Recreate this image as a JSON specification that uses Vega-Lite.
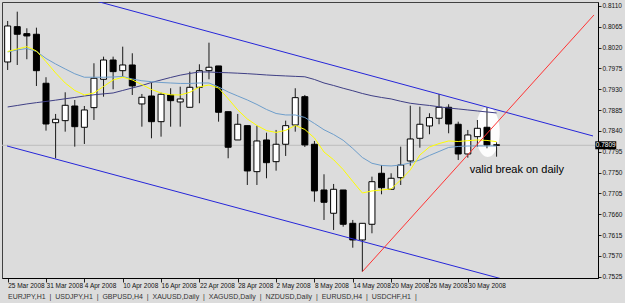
{
  "$schema": "https://vega.github.io/schema/vega-lite/v6.json",
  "width": 596,
  "height": 276,
  "autosize": {"type": "none"},
  "padding": {"left": 2, "top": 2, "right": 27, "bottom": 25},
  "background": "#dcdcdc",
  "config": {
    "font": "Liberation Sans",
    "view": {"stroke": "#404040", "strokeWidth": 1, "fill": "#dcdcdc"}
  },
  "title": {
    "text": "EURJPY,H1\u00a0\u00a0|\u00a0\u00a0USDJPY,H1\u00a0\u00a0|\u00a0\u00a0GBPUSD,H4\u00a0\u00a0|\u00a0\u00a0XAUUSD,Daily\u00a0\u00a0|\u00a0\u00a0XAGUSD,Daily\u00a0\u00a0|\u00a0\u00a0NZDUSD,Daily\u00a0\u00a0|\u00a0\u00a0EURUSD,H4\u00a0\u00a0|\u00a0\u00a0USDCHF,H1\u00a0\u00a0|",
    "orient": "bottom", "anchor": "start", "frame": "group", "fontSize": 7, "fontWeight": "normal",
    "font": "Liberation Sans", "color": "#333333", "offset": 4, "dx": 6
  },
  "datasets": {
    "candles": [
      {"i":0,"o":0.79890,"h":0.80776,"l":0.79717,"c":0.80668},
      {"i":1,"o":0.80653,"h":0.80977,"l":0.79825,"c":0.80489},
      {"i":2,"o":0.80502,"h":0.80618,"l":0.79949,"c":0.80452},
      {"i":3,"o":0.80489,"h":0.80631,"l":0.79371,"c":0.79702},
      {"i":4,"o":0.79430,"h":0.79560,"l":0.78406,"c":0.78550},
      {"i":5,"o":0.78578,"h":0.78767,"l":0.77809,"c":0.78652},
      {"i":6,"o":0.78622,"h":0.79235,"l":0.78384,"c":0.78954},
      {"i":7,"o":0.78939,"h":0.79069,"l":0.78060,"c":0.78492},
      {"i":8,"o":0.78479,"h":0.78939,"l":0.78118,"c":0.78853},
      {"i":9,"o":0.78903,"h":0.79862,"l":0.78637,"c":0.79538},
      {"i":10,"o":0.79516,"h":0.80005,"l":0.79140,"c":0.79933},
      {"i":11,"o":0.79933,"h":0.80005,"l":0.79300,"c":0.79681},
      {"i":12,"o":0.79702,"h":0.80221,"l":0.79573,"c":0.79825},
      {"i":13,"o":0.79825,"h":0.80078,"l":0.79177,"c":0.79372},
      {"i":14,"o":0.78983,"h":0.79199,"l":0.78492,"c":0.79127},
      {"i":15,"o":0.79155,"h":0.79443,"l":0.78241,"c":0.78600},
      {"i":16,"o":0.78600,"h":0.79227,"l":0.78276,"c":0.79192},
      {"i":17,"o":0.79177,"h":0.79322,"l":0.78492,"c":0.79054},
      {"i":18,"o":0.79026,"h":0.79356,"l":0.78492,"c":0.79091},
      {"i":19,"o":0.78911,"h":0.79681,"l":0.78911,"c":0.79343},
      {"i":20,"o":0.79343,"h":0.79840,"l":0.78998,"c":0.79702},
      {"i":21,"o":0.79702,"h":0.80307,"l":0.79516,"c":0.79776},
      {"i":22,"o":0.79804,"h":0.79804,"l":0.78600,"c":0.78803},
      {"i":23,"o":0.78816,"h":0.78816,"l":0.77809,"c":0.78047},
      {"i":24,"o":0.78205,"h":0.78767,"l":0.78205,"c":0.78544},
      {"i":25,"o":0.78514,"h":0.78514,"l":0.77232,"c":0.77535},
      {"i":26,"o":0.77520,"h":0.78514,"l":0.77232,"c":0.78183},
      {"i":27,"o":0.78205,"h":0.78362,"l":0.77377,"c":0.77714},
      {"i":28,"o":0.77736,"h":0.78421,"l":0.77541,"c":0.78112},
      {"i":29,"o":0.78112,"h":0.78622,"l":0.77859,"c":0.78514},
      {"i":30,"o":0.78529,"h":0.79322,"l":0.78384,"c":0.79119},
      {"i":31,"o":0.79140,"h":0.79177,"l":0.78053,"c":0.78097},
      {"i":32,"o":0.78112,"h":0.78183,"l":0.76871,"c":0.77103},
      {"i":33,"o":0.77124,"h":0.77463,"l":0.76476,"c":0.76858},
      {"i":34,"o":0.76621,"h":0.77254,"l":0.76260,"c":0.77139},
      {"i":35,"o":0.77124,"h":0.77124,"l":0.76331,"c":0.76383},
      {"i":36,"o":0.76404,"h":0.76476,"l":0.75877,"c":0.76044},
      {"i":37,"o":0.76044,"h":0.76404,"l":0.75359,"c":0.76404},
      {"i":38,"o":0.76383,"h":0.77412,"l":0.76188,"c":0.77303},
      {"i":39,"o":0.77485,"h":0.77664,"l":0.77031,"c":0.77174},
      {"i":40,"o":0.77139,"h":0.77485,"l":0.77124,"c":0.77377},
      {"i":41,"o":0.77390,"h":0.78060,"l":0.77232,"c":0.77664},
      {"i":42,"o":0.77751,"h":0.78946,"l":0.77649,"c":0.78226},
      {"i":43,"o":0.78241,"h":0.78924,"l":0.78038,"c":0.78544},
      {"i":44,"o":0.78507,"h":0.78782,"l":0.78328,"c":0.78687},
      {"i":45,"o":0.78674,"h":0.79199,"l":0.78544,"c":0.78911},
      {"i":46,"o":0.78911,"h":0.78976,"l":0.78349,"c":0.78550},
      {"i":47,"o":0.78544,"h":0.78600,"l":0.77772,"c":0.77902},
      {"i":48,"o":0.77902,"h":0.78421,"l":0.77822,"c":0.78313},
      {"i":49,"o":0.78276,"h":0.78637,"l":0.78060,"c":0.78457},
      {"i":50,"o":0.78479,"h":0.78911,"l":0.78025,"c":0.78097},
      {"i":51,"o":0.78100,"h":0.78155,"l":0.77844,"c":0.78090}
    ],
    "ma": [
      {"i":0,"fast":0.80117,"mid":0.80106,"slow":0.78918},
      {"i":1,"fast":0.80171,"mid":0.80150,"slow":0.78950},
      {"i":2,"fast":0.80221,"mid":0.80182,"slow":0.78983},
      {"i":3,"fast":0.80128,"mid":0.80117,"slow":0.79011},
      {"i":4,"fast":0.79897,"mid":0.79966,"slow":0.79037},
      {"i":5,"fast":0.79653,"mid":0.79847,"slow":0.79065},
      {"i":6,"fast":0.79436,"mid":0.79739,"slow":0.79095},
      {"i":7,"fast":0.79274,"mid":0.79635,"slow":0.79123},
      {"i":8,"fast":0.79177,"mid":0.79560,"slow":0.79155},
      {"i":9,"fast":0.79220,"mid":0.79560,"slow":0.79181},
      {"i":10,"fast":0.79361,"mid":0.79560,"slow":0.79201},
      {"i":11,"fast":0.79501,"mid":0.79566,"slow":0.79220},
      {"i":12,"fast":0.79560,"mid":0.79577,"slow":0.79274},
      {"i":13,"fast":0.79501,"mid":0.79523,"slow":0.79328},
      {"i":14,"fast":0.79402,"mid":0.79484,"slow":0.79382},
      {"i":15,"fast":0.79296,"mid":0.79464,"slow":0.79447},
      {"i":16,"fast":0.79220,"mid":0.79447,"slow":0.79501},
      {"i":17,"fast":0.79181,"mid":0.79436,"slow":0.79555},
      {"i":18,"fast":0.79177,"mid":0.79426,"slow":0.79605},
      {"i":19,"fast":0.79235,"mid":0.79426,"slow":0.79642},
      {"i":20,"fast":0.79350,"mid":0.79436,"slow":0.79674},
      {"i":21,"fast":0.79393,"mid":0.79436,"slow":0.79674},
      {"i":22,"fast":0.79328,"mid":0.79350,"slow":0.79663},
      {"i":23,"fast":0.79097,"mid":0.79242,"slow":0.79657},
      {"i":24,"fast":0.78853,"mid":0.79155,"slow":0.79648},
      {"i":25,"fast":0.78658,"mid":0.79069,"slow":0.79637},
      {"i":26,"fast":0.78518,"mid":0.78972,"slow":0.79624},
      {"i":27,"fast":0.78408,"mid":0.78864,"slow":0.79609},
      {"i":28,"fast":0.78367,"mid":0.78777,"slow":0.79598},
      {"i":29,"fast":0.78412,"mid":0.78745,"slow":0.79588},
      {"i":30,"fast":0.78518,"mid":0.78745,"slow":0.79579},
      {"i":31,"fast":0.78432,"mid":0.78691,"slow":0.79570},
      {"i":32,"fast":0.78248,"mid":0.78561,"slow":0.79512},
      {"i":33,"fast":0.77945,"mid":0.78425,"slow":0.79436},
      {"i":34,"fast":0.77777,"mid":0.78323,"slow":0.79382},
      {"i":35,"fast":0.77565,"mid":0.78198,"slow":0.79322},
      {"i":36,"fast":0.77308,"mid":0.78021,"slow":0.79268},
      {"i":37,"fast":0.77059,"mid":0.77826,"slow":0.79209},
      {"i":38,"fast":0.77103,"mid":0.77701,"slow":0.79160},
      {"i":39,"fast":0.77124,"mid":0.77654,"slow":0.79123},
      {"i":40,"fast":0.77146,"mid":0.77643,"slow":0.79091},
      {"i":41,"fast":0.77340,"mid":0.77664,"slow":0.79041},
      {"i":42,"fast":0.77556,"mid":0.77708,"slow":0.78998},
      {"i":43,"fast":0.77880,"mid":0.77772,"slow":0.78972},
      {"i":44,"fast":0.78053,"mid":0.77870,"slow":0.78950},
      {"i":45,"fast":0.78127,"mid":0.77956,"slow":0.78922},
      {"i":46,"fast":0.78183,"mid":0.78043,"slow":0.78896},
      {"i":47,"fast":0.78172,"mid":0.78064,"slow":0.78875},
      {"i":48,"fast":0.78190,"mid":0.78075,"slow":0.78853},
      {"i":49,"fast":0.78205,"mid":0.78075,"slow":0.78831},
      {"i":50,"fast":0.78194,"mid":0.78075,"slow":0.78810},
      {"i":51,"fast":0.78168,"mid":0.78075,"slow":0.78788}
    ],
    "trend": [
      {"line":"upper","i":0,"p":0.81725},
      {"line":"upper","i":61.06,"p":0.78291},
      {"line":"lower","i":-0.07,"p":0.78075},
      {"line":"lower","i":61.06,"p":0.74673},
      {"line":"red","i":37,"p":0.75359},
      {"line":"red","i":61.16,"p":0.80906}
    ],
    "notes": [
      {"kind":"ellipse","i":50.08,"p":0.78378,"text":""},
      {"kind":"label","i":48.2,"p":0.77556,"text":"valid break on daily"},
      {"kind":"bid","i":62.39,"p":0.7809,"text":"0.7809"}
    ]
  },
  "encoding": {
    "x": {
      "field": "i", "type": "quantitative",
      "scale": {"domain": [-0.07, 61.06], "nice": false, "zero": false},
      "axis": {
        "title": null, "grid": false,
        "values": [0,4,8,12,16,20,24,28,32,36,40,44,48],
        "labelExpr": "['25 Mar 2008','31 Mar 2008','4 Apr 2008','10 Apr 2008','16 Apr 2008','22 Apr 2008','28 Apr 2008','2 May 2008','8 May 2008','14 May 2008','20 May 2008','26 May 2008','30 May 2008'][datum.value/4]",
        "labelAlign": "left", "labelPadding": 0, "labelFontSize": 6.5, "labelColor": "#111111",
        "labelFont": "Liberation Sans", "tickSize": 4, "tickColor": "#222222",
        "domainColor": "#000000", "labelOverlap": false, "labelFlush": false
      }
    }
  },
  "layer": [
    {
      "data": {"name": "notes"},
      "transform": [{"filter": "datum.kind === 'ellipse'"}],
      "mark": {"type": "point", "filled": true, "color": "#ffffff", "opacity": 0.92, "size": 2500,
        "shape": "M0,-1 A0.48,1 0 1,1 0,1 A0.48,1 0 1,1 0,-1 Z"},
      "encoding": {
        "y": {"field": "p", "type": "quantitative",
          "scale": {"domain": [0.75222, 0.81186], "nice": false, "zero": false},
          "axis": {"orient": "right", "title": null, "grid": false,
            "values": [0.7525,0.7570,0.7615,0.7660,0.7705,0.7750,0.7795,0.7840,0.7885,0.7930,0.7975,0.8020,0.8065,0.8110],
            "format": ".4f", "labelFontSize": 6.5, "labelFont": "Liberation Sans", "labelColor": "#111111",
            "labelPadding": 1, "tickSize": 3, "tickColor": "#222222", "domainColor": "#000000",
            "labelOverlap": false, "labelFlush": false}
        }
      }
    },
    {
      "data": {"values": [{"p": 0.7809}]},
      "mark": {"type": "rule", "color": "#bcbcbc", "strokeWidth": 1},
      "encoding": {"x": null, "y": {"field": "p", "type": "quantitative",
          "axis": {"orient": "right", "title": null, "grid": false,
            "values": [0.7525,0.7570,0.7615,0.7660,0.7705,0.7750,0.7795,0.7840,0.7885,0.7930,0.7975,0.8020,0.8065,0.8110],
            "format": ".4f", "labelFontSize": 6.5, "labelFont": "Liberation Sans", "labelColor": "#111111",
            "labelPadding": 1, "tickSize": 3, "tickColor": "#222222", "domainColor": "#000000",
            "labelOverlap": false, "labelFlush": false}}}
    },
    {
      "data": {"name": "candles"},
      "mark": {"type": "rule", "color": "#1a1a1a", "strokeWidth": 1},
      "encoding": {
        "y": {"field": "l", "type": "quantitative",
          "axis": {"orient": "right", "title": null, "grid": false,
            "values": [0.7525,0.7570,0.7615,0.7660,0.7705,0.7750,0.7795,0.7840,0.7885,0.7930,0.7975,0.8020,0.8065,0.8110],
            "format": ".4f", "labelFontSize": 6.5, "labelFont": "Liberation Sans", "labelColor": "#111111",
            "labelPadding": 1, "tickSize": 3, "tickColor": "#222222", "domainColor": "#000000",
            "labelOverlap": false, "labelFlush": false}},
        "y2": {"field": "h"}
      }
    },
    {
      "data": {"name": "candles"},
      "mark": {"type": "bar", "width": 6, "stroke": "#000000", "strokeWidth": 1},
      "encoding": {
        "y": {"field": "o", "type": "quantitative",
          "axis": {"orient": "right", "title": null, "grid": false,
            "values": [0.7525,0.7570,0.7615,0.7660,0.7705,0.7750,0.7795,0.7840,0.7885,0.7930,0.7975,0.8020,0.8065,0.8110],
            "format": ".4f", "labelFontSize": 6.5, "labelFont": "Liberation Sans", "labelColor": "#111111",
            "labelPadding": 1, "tickSize": 3, "tickColor": "#222222", "domainColor": "#000000",
            "labelOverlap": false, "labelFlush": false}},
        "y2": {"field": "c"},
        "fill": {"condition": {"test": "datum.c >= datum.o", "value": "#ffffff"}, "value": "#000000"}
      }
    },
    {
      "data": {"name": "ma"},
      "mark": {"type": "line", "color": "#3f3f85", "strokeWidth": 1, "clip": true},
      "encoding": {"y": {"field": "slow", "type": "quantitative",
          "axis": {"orient": "right", "title": null, "grid": false,
            "values": [0.7525,0.7570,0.7615,0.7660,0.7705,0.7750,0.7795,0.7840,0.7885,0.7930,0.7975,0.8020,0.8065,0.8110],
            "format": ".4f", "labelFontSize": 6.5, "labelFont": "Liberation Sans", "labelColor": "#111111",
            "labelPadding": 1, "tickSize": 3, "tickColor": "#222222", "domainColor": "#000000",
            "labelOverlap": false, "labelFlush": false}}}
    },
    {
      "data": {"name": "ma"},
      "mark": {"type": "line", "color": "#6e9ecb", "strokeWidth": 1, "clip": true},
      "encoding": {"y": {"field": "mid", "type": "quantitative",
          "axis": {"orient": "right", "title": null, "grid": false,
            "values": [0.7525,0.7570,0.7615,0.7660,0.7705,0.7750,0.7795,0.7840,0.7885,0.7930,0.7975,0.8020,0.8065,0.8110],
            "format": ".4f", "labelFontSize": 6.5, "labelFont": "Liberation Sans", "labelColor": "#111111",
            "labelPadding": 1, "tickSize": 3, "tickColor": "#222222", "domainColor": "#000000",
            "labelOverlap": false, "labelFlush": false}}}
    },
    {
      "data": {"name": "ma"},
      "mark": {"type": "line", "color": "#ffff00", "strokeWidth": 1, "clip": true},
      "encoding": {"y": {"field": "fast", "type": "quantitative",
          "axis": {"orient": "right", "title": null, "grid": false,
            "values": [0.7525,0.7570,0.7615,0.7660,0.7705,0.7750,0.7795,0.7840,0.7885,0.7930,0.7975,0.8020,0.8065,0.8110],
            "format": ".4f", "labelFontSize": 6.5, "labelFont": "Liberation Sans", "labelColor": "#111111",
            "labelPadding": 1, "tickSize": 3, "tickColor": "#222222", "domainColor": "#000000",
            "labelOverlap": false, "labelFlush": false}}}
    },
    {
      "data": {"name": "trend"},
      "mark": {"type": "line", "strokeWidth": 1, "clip": true},
      "encoding": {
        "y": {"field": "p", "type": "quantitative",
          "axis": {"orient": "right", "title": null, "grid": false,
            "values": [0.7525,0.7570,0.7615,0.7660,0.7705,0.7750,0.7795,0.7840,0.7885,0.7930,0.7975,0.8020,0.8065,0.8110],
            "format": ".4f", "labelFontSize": 6.5, "labelFont": "Liberation Sans", "labelColor": "#111111",
            "labelPadding": 1, "tickSize": 3, "tickColor": "#222222", "domainColor": "#000000",
            "labelOverlap": false, "labelFlush": false}},
        "detail": {"field": "line"},
        "color": {"field": "line", "type": "nominal", "legend": null,
          "scale": {"domain": ["upper", "lower", "red"], "range": ["#2626d9", "#2626d9", "#ff3333"]}}
      }
    },
    {
      "data": {"name": "notes"},
      "transform": [{"filter": "datum.kind === 'label'"}],
      "mark": {"type": "text", "align": "left", "baseline": "middle", "fontSize": 11, "font": "Liberation Sans", "color": "#000000"},
      "encoding": {
        "y": {"field": "p", "type": "quantitative",
          "axis": {"orient": "right", "title": null, "grid": false,
            "values": [0.7525,0.7570,0.7615,0.7660,0.7705,0.7750,0.7795,0.7840,0.7885,0.7930,0.7975,0.8020,0.8065,0.8110],
            "format": ".4f", "labelFontSize": 6.5, "labelFont": "Liberation Sans", "labelColor": "#111111",
            "labelPadding": 1, "tickSize": 3, "tickColor": "#222222", "domainColor": "#000000",
            "labelOverlap": false, "labelFlush": false}},
        "text": {"field": "text"}
      }
    },
    {
      "data": {"name": "notes"},
      "transform": [{"filter": "datum.kind === 'bid'"}],
      "mark": {"type": "point", "filled": true, "color": "#000000", "opacity": 1, "size": 441,
        "shape": "M-1,-0.38 L1,-0.38 L1,0.38 L-1,0.38 Z"},
      "encoding": {"y": {"field": "p", "type": "quantitative",
          "axis": {"orient": "right", "title": null, "grid": false,
            "values": [0.7525,0.7570,0.7615,0.7660,0.7705,0.7750,0.7795,0.7840,0.7885,0.7930,0.7975,0.8020,0.8065,0.8110],
            "format": ".4f", "labelFontSize": 6.5, "labelFont": "Liberation Sans", "labelColor": "#111111",
            "labelPadding": 1, "tickSize": 3, "tickColor": "#222222", "domainColor": "#000000",
            "labelOverlap": false, "labelFlush": false}}}
    },
    {
      "data": {"name": "notes"},
      "transform": [{"filter": "datum.kind === 'bid'"}],
      "mark": {"type": "text", "align": "center", "baseline": "middle", "fontSize": 6.5, "font": "Liberation Sans", "color": "#ffffff"},
      "encoding": {
        "y": {"field": "p", "type": "quantitative",
          "axis": {"orient": "right", "title": null, "grid": false,
            "values": [0.7525,0.7570,0.7615,0.7660,0.7705,0.7750,0.7795,0.7840,0.7885,0.7930,0.7975,0.8020,0.8065,0.8110],
            "format": ".4f", "labelFontSize": 6.5, "labelFont": "Liberation Sans", "labelColor": "#111111",
            "labelPadding": 1, "tickSize": 3, "tickColor": "#222222", "domainColor": "#000000",
            "labelOverlap": false, "labelFlush": false}},
        "text": {"field": "text"}
      }
    }
  ],
  "resolve": {"scale": {"y": "shared"}}
}
